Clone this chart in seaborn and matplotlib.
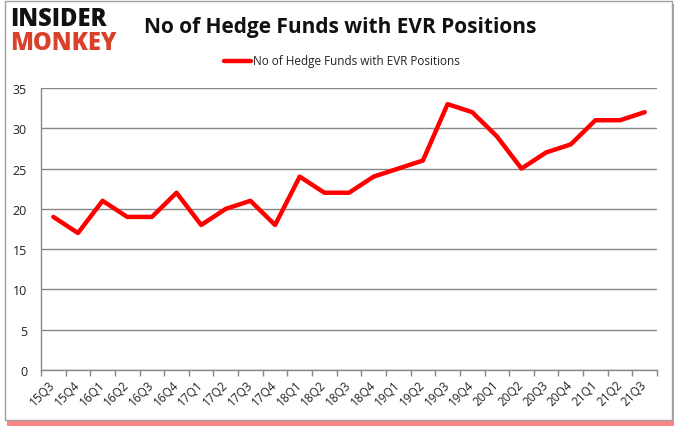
import matplotlib
matplotlib.use("Agg")
import matplotlib.pyplot as plt
import seaborn as sns
import pandas as pd
from matplotlib.patches import Rectangle

quarters = ["15Q3", "15Q4", "16Q1", "16Q2", "16Q3", "16Q4", "17Q1", "17Q2", "17Q3", "17Q4",
            "18Q1", "18Q2", "18Q3", "18Q4", "19Q1", "19Q2", "19Q3", "19Q4", "20Q1", "20Q2",
            "20Q3", "20Q4", "21Q1", "21Q2", "21Q3"]
funds = [19, 17, 21, 19, 19, 22, 18, 20, 21, 18,
         24, 22, 22, 24, 25, 26, 33, 32, 29, 25,
         27, 28, 31, 31, 32]
series_name = "No of Hedge Funds with EVR Positions"
yticks = [0, 5, 10, 15, 20, 25, 30, 35]

sns.set_theme(style="white")
plt.rcParams['font.family'] = ['Open Sans', 'DejaVu Sans']

df = pd.DataFrame({"quarter": quarters, "funds": funds, "series": series_name})
df["pos"] = range(len(df))

W, H = 678, 431
fig = plt.figure(figsize=(W / 100, H / 100), dpi=100)

# Border with red shadow (bottom/right)
fig.add_artist(Rectangle((7 / W, 1 - 427 / H), 667 / W, 422 / H, transform=fig.transFigure,
                         facecolor="#ff2020", edgecolor="none", alpha=0.55, zorder=-3))
fig.add_artist(Rectangle((5 / W, 1 - 421 / H), 667 / W, 419 / H, transform=fig.transFigure,
                         facecolor="white", edgecolor="#a0a0a0", linewidth=1, zorder=-2))

ax = fig.add_axes([41 / W, 1 - 371 / H, 616 / W, 282 / H])
ax.patch.set_alpha(0)

sns.lineplot(data=df, x="pos", y="funds", hue="series", palette=["#ff0000"],
             linewidth=3.2, ax=ax, legend=False)

ax.set_xlim(-0.5, len(quarters) - 0.5)
ax.set_ylim(0, 35)
ax.set_yticks(yticks)
ax.set_yticklabels([str(v) for v in yticks], fontsize=9, color="#222222")
ax.yaxis.grid(True, color="#888888", linewidth=1)
ax.set_axisbelow(True)
ax.set_xticks(range(len(quarters)))
ax.set_xticklabels(quarters, rotation=45, fontsize=8.5, color="#222222",
                   ha="right", va="center", rotation_mode="anchor")
ax.tick_params(axis="x", length=0, pad=9)
ax.set_xticks([i - 0.5 for i in range(len(quarters) + 1)], minor=True)
ax.tick_params(axis="x", which="minor", length=4, color="#888888", bottom=True, direction="out")
ax.tick_params(axis="y", length=0, pad=10)
ax.set_xlabel("")
ax.set_ylabel("")
for s in ["top", "right"]:
    ax.spines[s].set_visible(False)
for s in ["left", "bottom"]:
    ax.spines[s].set_color("#888888")
    ax.spines[s].set_linewidth(1)

# Legend
fig.add_artist(plt.Line2D([224 / W, 251 / W], [1 - 62 / H, 1 - 62 / H],
                          color="#ff0000", linewidth=3.2, solid_capstyle="round"))
fig.text(253 / W, 1 - 62 / H, series_name, fontsize=8.5, va="center", ha="left", color="#222222")

# Title
fig.text(340 / W, 1 - 27 / H, series_name, fontsize=15, fontweight="bold",
         va="center", ha="center", color="#111111")

# Logo
fig.text(10 / W, 1 - 19 / H, "INSIDER", fontsize=17, fontweight="black",
         va="center", ha="left", color="#111111")
fig.text(10 / W, 1 - 43 / H, "MONKEY", fontsize=17, fontweight="black",
         va="center", ha="left", color="#d9412b")

fig.savefig("out.png", dpi=100)
